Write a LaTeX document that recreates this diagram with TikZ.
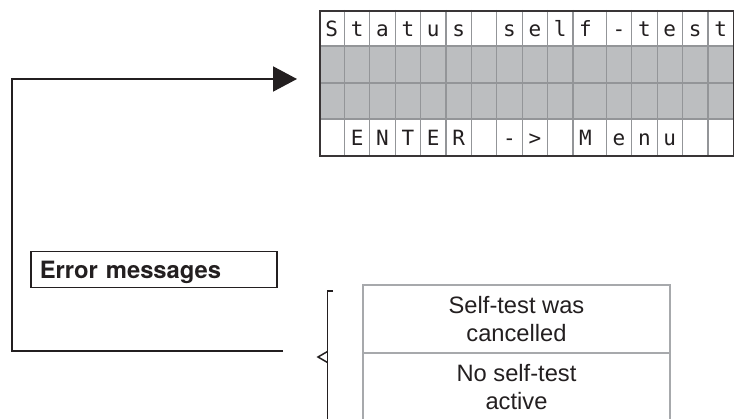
\documentclass[tikz,border=0pt]{standalone}
\usepackage{fontspec}
\setsansfont{Liberation Sans}
\setmonofont{DejaVu Sans Mono}
\newfontfamily\headfont{TeX Gyre Heros}
\usetikzlibrary{arrows.meta}

\definecolor{ink}{HTML}{231F20}
\definecolor{lcdgray}{HTML}{BCBEC0}
\definecolor{lcdgrid}{HTML}{939598}
\definecolor{cellgray}{HTML}{A7A9AC}

\tikzset{
	flow/.style={ink, line width=2pt},
	lcdline/.style={lcdgrid, line width=1.2pt},
	lcdchar/.style={anchor=base, inner sep=0pt, text=ink, font=\ttfamily\fontsize{21}{21}\selectfont},
	errbox/.style={draw=ink, line width=1.5pt, minimum height=36pt, text width=228pt, inner xsep=9pt, inner ysep=0pt, align=left, text height=17pt, text depth=0pt, text=ink, font=\headfont\bfseries\fontsize{23.8}{28}\selectfont},
	cell/.style={draw=cellgray, line width=1.5pt, minimum width=307pt, minimum height=68pt, inner sep=0pt, align=center, text=ink, font=\sffamily\fontsize{23.7}{27.5}\selectfont}
}

\begin{document}
\begin{tikzpicture}[x=1pt, y=-1pt]
	\useasboundingbox (0,0) rectangle (734,419);
	\clip (0,0) rectangle (734,419);

	% display, 4 rows x 16 columns
	\fill[lcdgray] (319,46) rectangle (733.3,119);
	\foreach \gx in {344.4,369.8,395.2,420.6,446,471.4,496.8,522.2,547.6,573,606.3,631.7,657.1,682.5,707.9}
		\draw[lcdline] (\gx,10) -- (\gx,155);
	\foreach \gy in {46,83,119}
		\draw[lcdline] (319,\gy) -- (733.3,\gy);
	\node[draw=ink!90, line width=2pt, minimum width=414.3pt, minimum height=145pt, inner sep=0pt, anchor=north west] (lcd) at (319,10) {};
	\foreach \cx/\upper/\lower [count=\i] in {331.7/S/{}, 357.1/t/E, 382.5/a/N, 407.9/t/T, 433.3/u/E, 458.7/s/R, 484.1/{}/{}, 509.5/s/-, 534.9/e/>, 560.3/l/{}, 585.5/f/M, 619/-/e, 644.4/t/n, 669.8/e/u, 695.2/s/{}, 720.6/t/{}} {
		\node[lcdchar] (top\i) at (\cx,36.5) {\upper};
		\node[lcdchar] (bot\i) at (\cx,146) {\lower};
	}

	\node[errbox, anchor=north west] (err) at (30,251) {Error messages};

	% return path back to the display
	\coordinate (back) at (283,351);
	\coordinate (tip) at (297,79);
	\draw[flow, -{Triangle[length=24pt, width=25pt]}] (back) -| (12,79) -- (tip);

	% bracket
	\draw[flow, line width=1.8pt] (333,291) -- (327.5,291) -- (327.5,430);
	\draw[flow, line width=1.5pt] (327.5,351.5) -- (318,357) -- (327.5,362.5);

	\node[cell] (cancel) at (516.5,319) {Self-test was\\cancelled};
	\node[cell] (noself) at (516.5,387) {No self-test\\active};
\end{tikzpicture}
\end{document}
